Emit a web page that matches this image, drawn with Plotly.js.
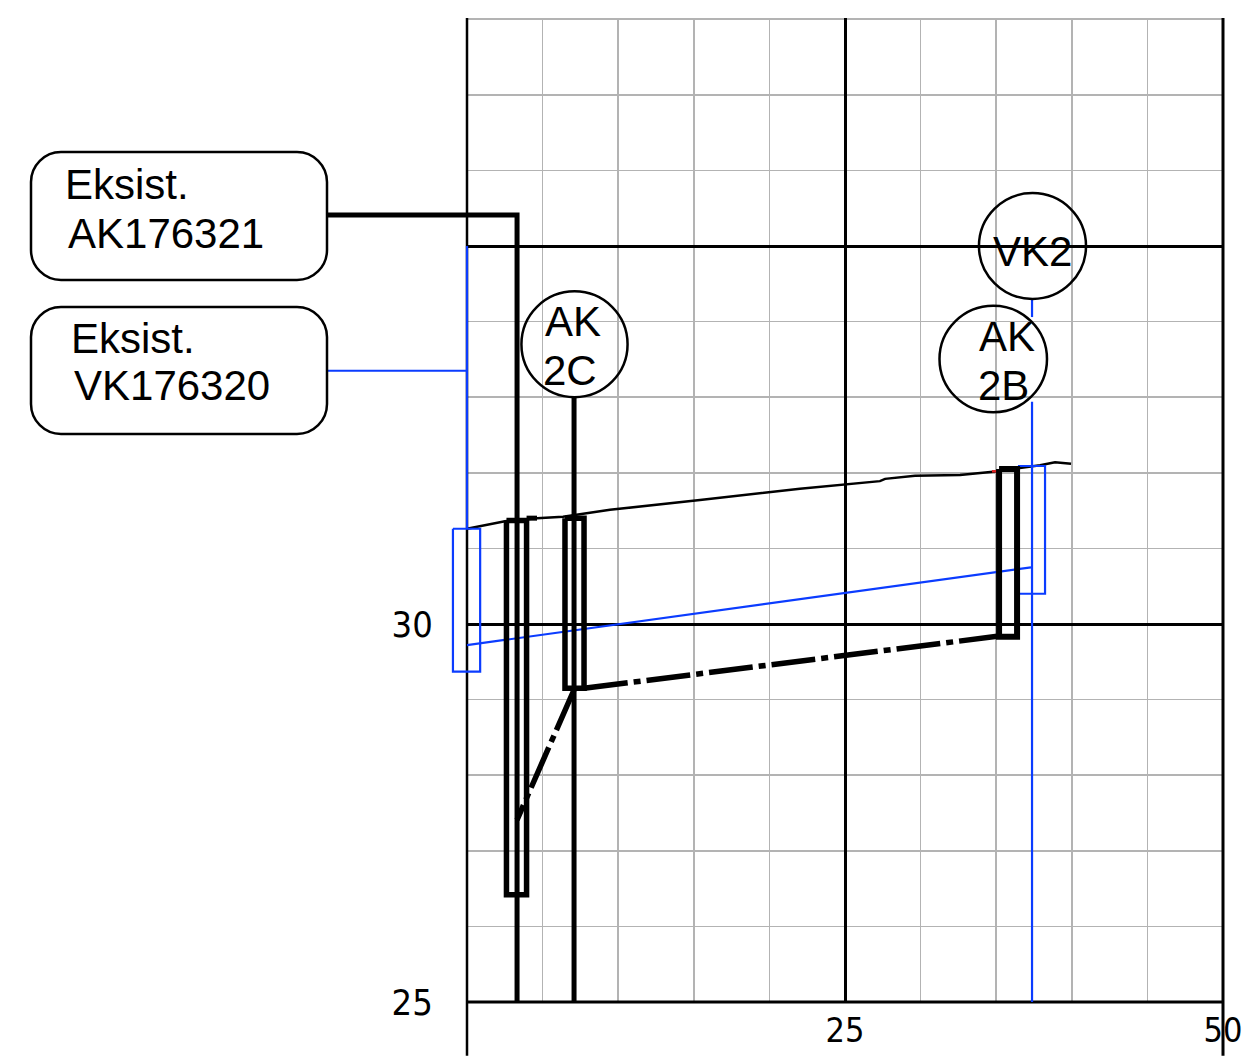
<!DOCTYPE html>
<html>
<head>
<meta charset="utf-8">
<script src="https://cdn.plot.ly/plotly-3.0.1.min.js"></script>
<style>html,body{margin:0;padding:0;background:#fff;overflow:hidden}#chart{width:1242px;height:1056px}</style>
</head>
<body>
<div id="chart"></div>
<script>
// Values (x: 0-50, y: 25-38)
const xTickVals = [0, 25, 50];
const xTickText = ['', '25', '50'];
const yTickVals = [25, 30, 35];
const yTickText = ['25', '30', ''];

const terrainX = [0, 2.51, 4.63, 6.35, 9.46, 15.41, 22.02, 27.31, 27.65, 29.63, 32.61, 35.12, 36.44, 37.90, 38.89, 39.95];
const terrainY = [31.26, 31.36, 31.40, 31.42, 31.51, 31.64, 31.79, 31.89, 31.92, 31.96, 31.97, 32.02, 32.06, 32.10, 32.14, 32.12];
const redX = [34.72, 35.05];
const redY = [32.02, 32.02];

const akMainX = [-9.26, 3.31, 3.31];
const akMainY = [35.41, 35.41, 25];
const ak2cX = [7.08, 7.08];
const ak2cY = [33.0, 25];
const rectAkX = [2.61, 3.94, 3.94, 2.61, 2.61];
const rectAkY = [31.37, 31.37, 26.42, 26.42, 31.37];
const stubX = [3.94, 4.63];
const stubY = [31.40, 31.40];
const rect2cX = [6.48, 7.74, 7.74, 6.48, 6.48];
const rect2cY = [31.40, 31.40, 29.15, 29.15, 31.40];
const rect2bX = [35.19, 36.38, 36.38, 35.19, 35.19];
const rect2bY = [32.05, 32.05, 29.83, 29.83, 32.05];
const pipeAX = [7.74, 35.19];
const pipeAY = [29.15, 29.84];
const pipeBX = [7.08, 3.31];
const pipeBY = [29.13, 27.41];

const vkExistX = [-9.26, 0, 0, 0];
const vkExistY = [33.35, 33.35, 35, 31.26];
const vkRectLX = [-0.93, 0.87, 0.87, -0.93, -0.93];
const vkRectLY = [31.26, 31.26, 29.37, 29.37, 31.26];
const vkPipeX = [0, 37.3];
const vkPipeY = [29.72, 30.75];
const vk2UpperX = [37.37, 37.37];
const vk2UpperY = [34.29, 34.06];
const vk2LowerX = [37.37, 37.37];
const vk2LowerY = [32.94, 25];
const vkRectRX = [36.44, 38.23, 38.23, 36.44];
const vkRectRY = [32.09, 32.09, 30.40, 30.40];

const frameLeftX = [0, 0];
const frameRightX = [50, 50];
const frameY = [38.016, 24.29];
const baseX = [0, 50];
const baseY = [25, 25];

const circleLabels = ['AK', '2C', 'VK2', 'AK', '2B'];
const circleLabelX = [7.01, 6.81, 37.37, 35.71, 35.45];
const circleLabelY = [34.0, 33.35, 34.93, 33.80, 33.16];
const circleX0 = [3.60, 33.86, 31.25];
const circleX1 = [10.62, 40.94, 38.36];
const circleY0 = [33.0, 34.30, 32.80];
const circleY1 = [34.40, 35.70, 34.21];

const boxTexts = ['Eksist.', 'AK176321', 'Eksist.', 'VK176320'];

const BLACK = '#000000', BLUE = '#0b3cff', GRID = '#b3b3b3';
const W = 1242, H = 1056;
const PX = x => x / W, PY = y => 1 - y / H;

function line(x, y, color, width, dash) {
  return {x, y, xaxis: 'x2', yaxis: 'y2', type: 'scatter', mode: 'lines', hoverinfo: 'skip', showlegend: false,
    line: {color, width, dash: dash || 'solid', simplify: false}};
}
const traces = [
  {x: [0, 50], y: [31, 31], type: 'scatter', mode: 'none', hoverinfo: 'skip', showlegend: false},
  line(baseX, baseY, BLACK, 3),
  line(frameLeftX, frameY, BLACK, 2.5),
  line(frameRightX, frameY, BLACK, 3),
  line(terrainX, terrainY, BLACK, 2.5),
  line(redX, redY, '#e02020', 2.5),
  line(vkExistX, vkExistY, BLUE, 2.2),
  line(vkRectLX, vkRectLY, BLUE, 2.2),
  line(vkPipeX, vkPipeY, BLUE, 2.2),
  line(vk2UpperX, vk2UpperY, BLUE, 2.2),
  line(vk2LowerX, vk2LowerY, BLUE, 2.2),
  line(vkRectRX, vkRectRY, BLUE, 2.2),
  line(akMainX, akMainY, BLACK, 5),
  line(ak2cX, ak2cY, BLACK, 5),
  line(rectAkX, rectAkY, BLACK, 5.5),
  line(stubX, stubY, BLACK, 5),
  line(rect2cX, rect2cY, BLACK, 5.5),
  line(rect2bX, rect2bY, BLACK, 6),
  line(pipeAX, pipeAY, BLACK, 5.5, '44px,6px,7px,6px'),
  line(pipeBX, pipeBY, BLACK, 5.5, '44px,6px,7px,6px')
];

function roundBox(l, t, r, b, rad) {
  const k = rad * 0.45, p = (x, y) => PX(x) + ',' + PY(y);
  return 'M' + p(l + rad, t) + ' L' + p(r - rad, t) +
    ' C' + p(r - k, t) + ' ' + p(r, t + k) + ' ' + p(r, t + rad) +
    ' L' + p(r, b - rad) +
    ' C' + p(r, b - k) + ' ' + p(r - k, b) + ' ' + p(r - rad, b) +
    ' L' + p(l + rad, b) +
    ' C' + p(l + k, b) + ' ' + p(l, b - k) + ' ' + p(l, b - rad) +
    ' L' + p(l, t + rad) +
    ' C' + p(l, t + k) + ' ' + p(l + k, t) + ' ' + p(l + rad, t) + ' Z';
}

const shapes = circleX0.map((_, i) => ({
  type: 'circle', xref: 'x', yref: 'y', layer: 'above',
  x0: circleX0[i], x1: circleX1[i], y0: circleY0[i], y1: circleY1[i],
  line: {color: BLACK, width: 2.5}
}));
[[31, 152, 327, 280], [31, 307, 327, 434]].forEach(b => shapes.push({
  type: 'path', xref: 'paper', yref: 'paper', layer: 'above',
  path: roundBox(b[0], b[1], b[2], b[3], 30),
  line: {color: BLACK, width: 2.5}
}));

const font = {family: 'Liberation Sans, Arial, sans-serif', size: 42, color: BLACK};
const annotations = circleLabels.map((t, i) => ({
  text: t, x: circleLabelX[i], y: circleLabelY[i], xref: 'x', yref: 'y',
  showarrow: false, font, xanchor: 'center', yanchor: 'middle'
}));
[[64, 185], [67, 234], [70, 338], [73, 386]].forEach((p, i) => annotations.push({
  text: boxTexts[i], x: PX(p[0]), y: PY(p[1]), xref: 'paper', yref: 'paper',
  showarrow: false, font, xanchor: 'left', yanchor: 'middle', borderpad: 0
}));

const tickFamily = 'Liberation Sans Narrow, DejaVu Sans Condensed, sans-serif';
const layout = {
  width: W, height: H,
  margin: {l: 0, r: 0, t: 0, b: 0, pad: 0},
  paper_bgcolor: '#fff', plot_bgcolor: 'rgba(0,0,0,0)',
  showlegend: false,
  xaxis: {
    domain: [467 / W, 1223 / W], anchor: 'y',
    range: [0, 50], tickmode: 'array', tickvals: xTickVals, ticktext: xTickText,
    showgrid: true, gridcolor: BLACK, gridwidth: 3, zeroline: false, showline: false,
    ticks: '', ticklabelstandoff: 5, ticklabeloverflow: 'allow',
    tickfont: {family: tickFamily, size: 34, color: BLACK}, tickangle: 0,
    minor: {tickmode: 'linear', tick0: 0, dtick: 5, showgrid: true, gridcolor: GRID, gridwidth: 1.5, ticks: ''}
  },
  yaxis: {
    domain: [54 / H, 1038 / H], anchor: 'x',
    range: [25, 38.016], tickmode: 'array', tickvals: yTickVals, ticktext: yTickText,
    showgrid: true, gridcolor: BLACK, gridwidth: 3, zeroline: false, showline: false,
    ticks: 'outside', ticklen: 26, tickcolor: 'rgba(0,0,0,0)', tickfont: {family: tickFamily, size: 36, color: BLACK},
    minor: {tickmode: 'linear', tick0: 25, dtick: 1, showgrid: true, gridcolor: GRID, gridwidth: 1.5, ticks: ''}
  },
  // a second, invisible pair of axes on the same scale covers the whole page, so lines can leave the grid
  xaxis2: {domain: [0, 1], anchor: 'y2', range: [-467 / 15.12, (W - 467) / 15.12], visible: false},
  yaxis2: {domain: [0, 1], anchor: 'x2', range: [25 - 54 / 75.6, 25 + 1002 / 75.6], visible: false},
  shapes, annotations
};
Plotly.newPlot('chart', traces, layout, {displayModeBar: false, staticPlot: true});
</script>
</body>
</html>
